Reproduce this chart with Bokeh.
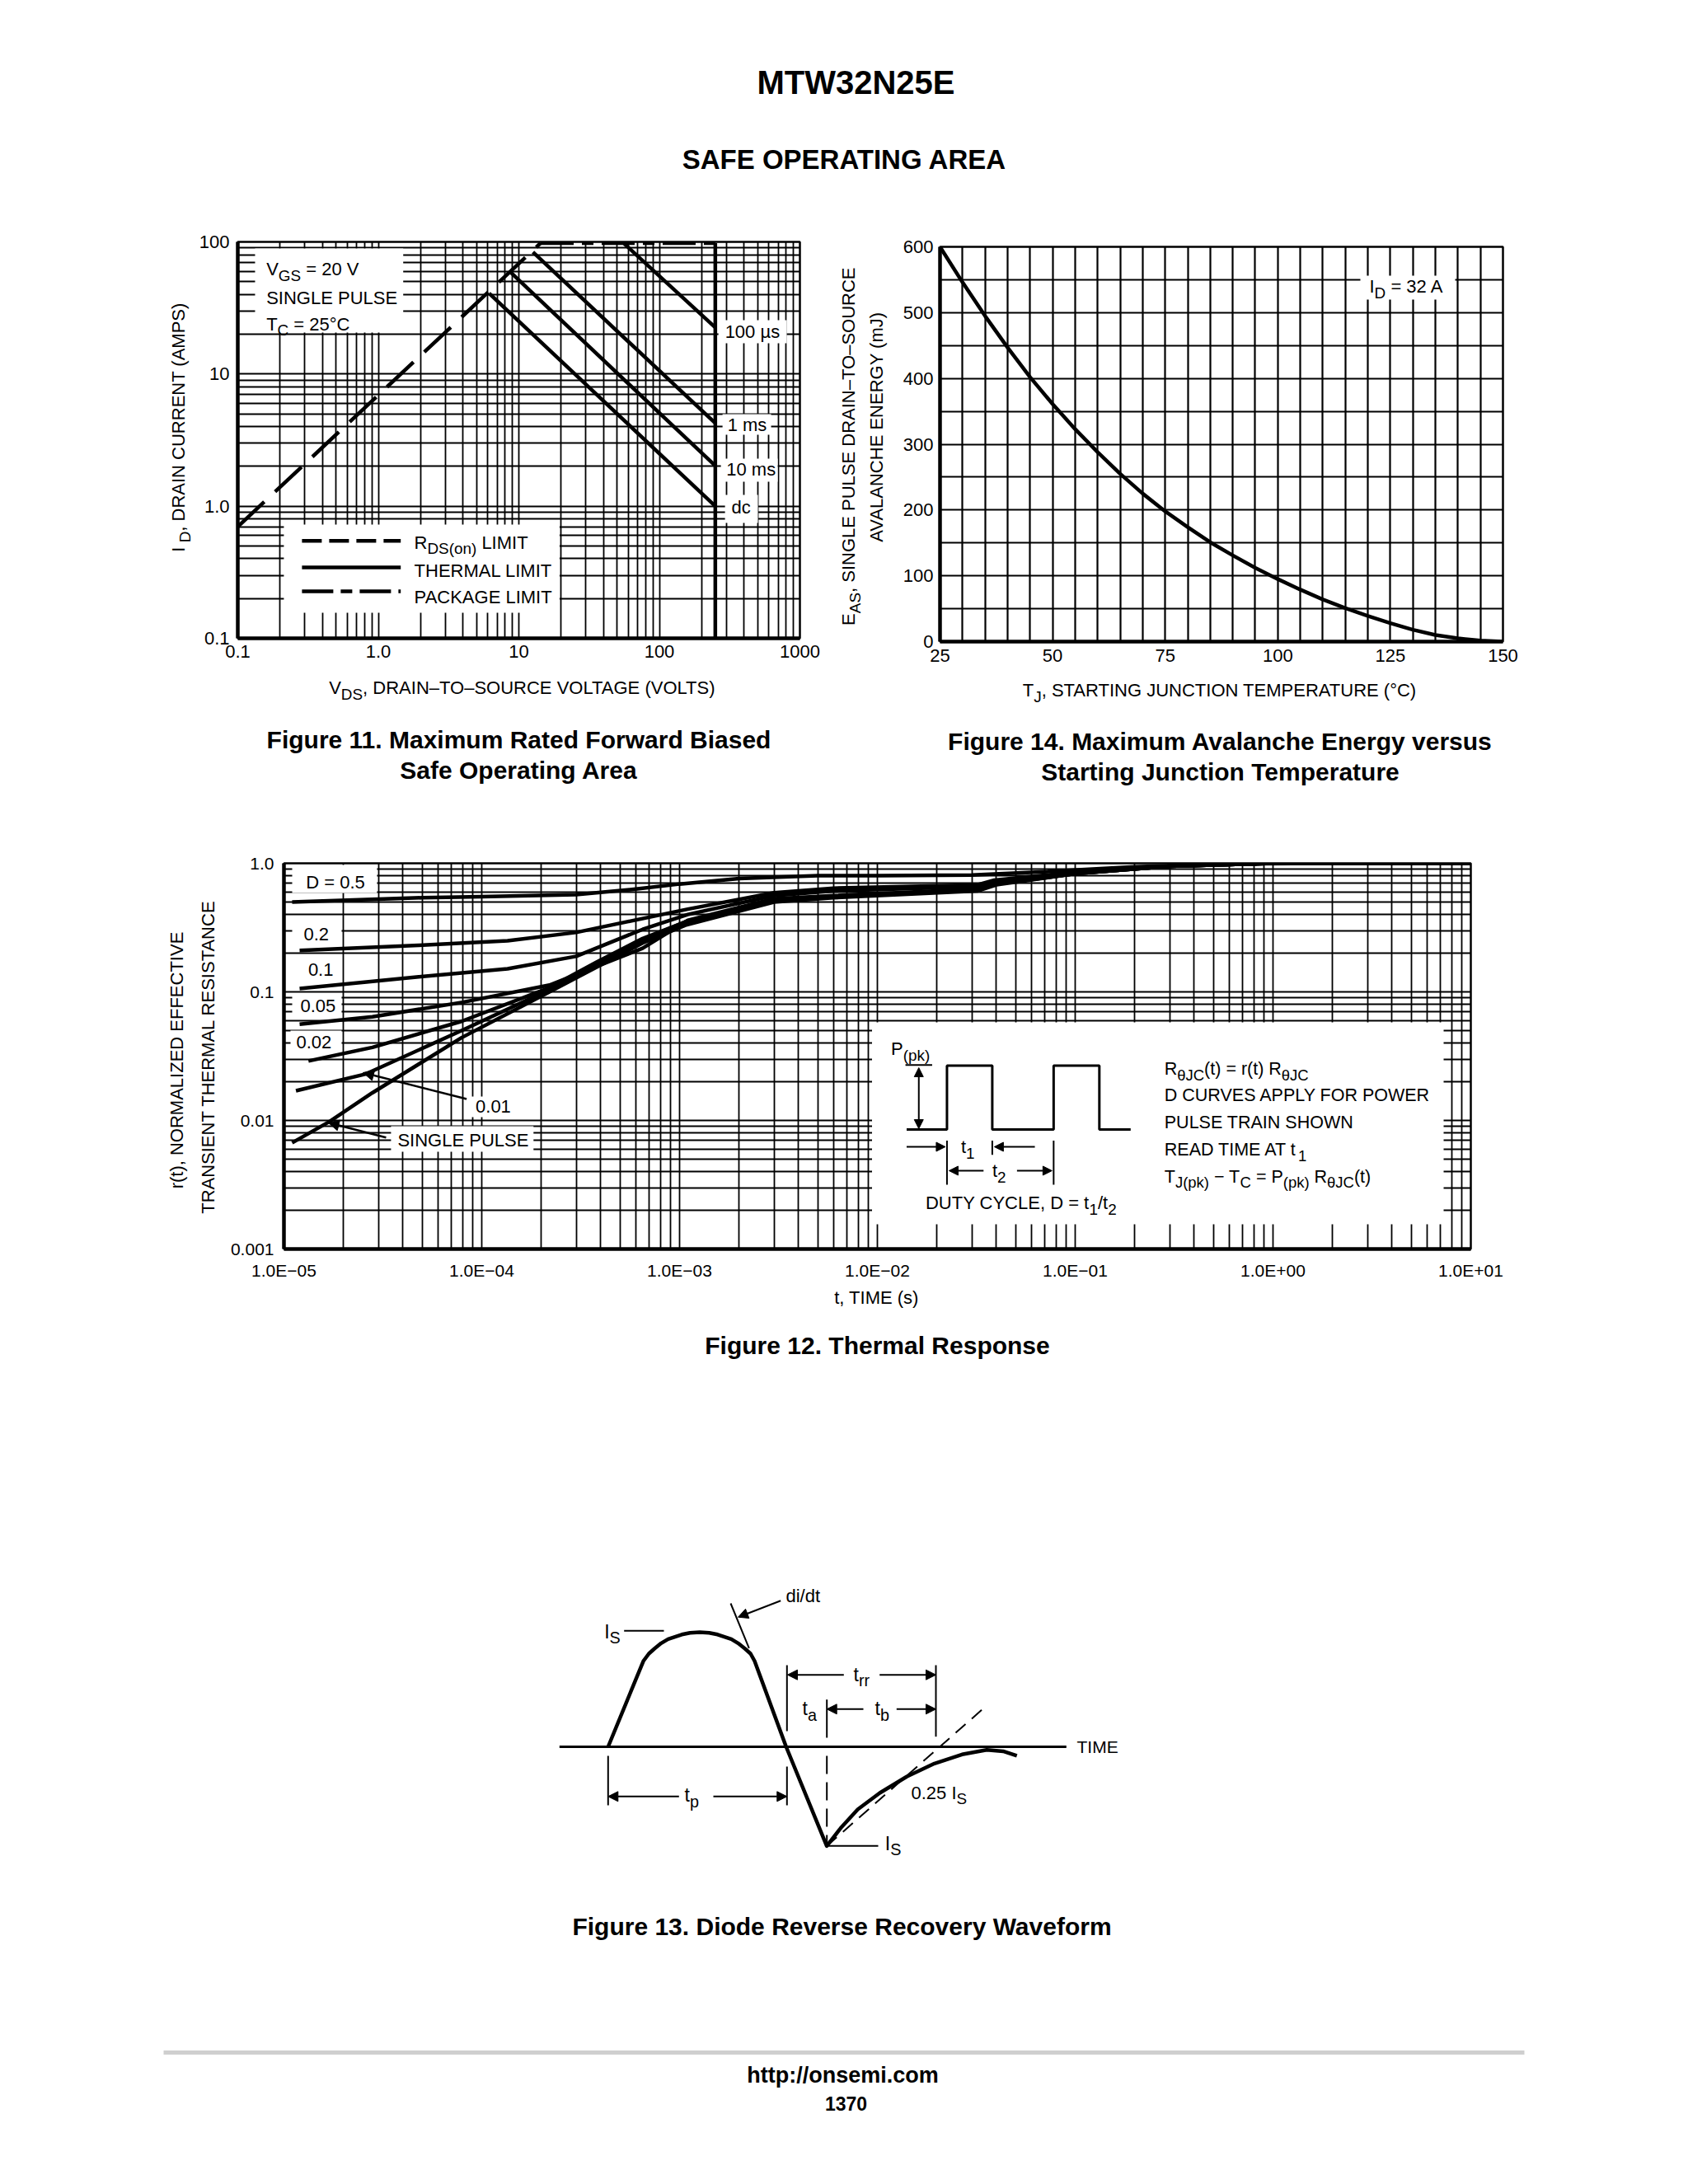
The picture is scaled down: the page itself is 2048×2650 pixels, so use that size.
import math
from bokeh.plotting import figure
from bokeh.models import (Label, FixedTicker, Range1d, Arrow, NormalHead,
                          CustomJSTickFormatter)
from bokeh.layouts import column, row
from bokeh.embed import file_html
from bokeh.resources import INLINE

# ======================= DATA =======================
# Figure 11 - Maximum rated forward biased safe operating area
soa_x_ticks = [0.1, 1.0, 10.0, 100.0, 1000.0]
soa_x_labels = ["0.1", "1.0", "10", "100", "1000"]
soa_y_ticks = [0.1, 1.0, 10.0, 100.0]
soa_y_labels = ["0.1", "1.0", "10", "100"]
rds_vds = [0.1, 14.3]            # RDS(on) limit
rds_id = [0.70, 98.0]
pkg_vds = [14.3, 250.0]          # package limit
pkg_id = [98.0, 98.0]
bvdss_vds = [250.0, 250.0]       # voltage limit
bvdss_id = [0.1, 98.0]
thermal_labels = ["100 µs", "1 ms", "10 ms", "dc"]
thermal_vds_start = [55.6, 12.6, 8.8, 6.14]
thermal_id_start = [98.0, 83.6, 58.4, 40.8]
thermal_vds_end = [250.0, 250.0, 250.0, 250.0]
thermal_id_end = [22.5, 4.25, 2.02, 1.0]

# Figure 14 - Maximum avalanche energy vs starting junction temperature
eas_x_ticks = [25, 50, 75, 100, 125, 150]
eas_y_ticks = [0, 100, 200, 300, 400, 500, 600]
eas_tj = [25, 30, 35, 40, 45, 50, 55, 60, 65, 70, 75, 80, 85, 90, 95, 100,
          105, 110, 115, 120, 125, 130, 135, 140, 145, 150]
eas_mj = [600, 546, 495, 447, 402, 361, 323, 288, 255, 225, 198, 174, 151,
          131, 112, 95, 79, 64, 51, 39, 28, 18, 10, 5, 1.5, 0]

# Figure 12 - Thermal response
zth_x_ticks = [1e-5, 1e-4, 1e-3, 1e-2, 1e-1, 1.0, 10.0]
zth_x_labels = ["1.0E\u221205", "1.0E\u221204", "1.0E\u221203", "1.0E\u221202",
                "1.0E\u221201", "1.0E+00", "1.0E+01"]
zth_y_ticks = [0.001, 0.01, 0.1, 1.0]
zth_y_labels = ["0.001", "0.01", "0.1", "1.0"]
zth_names = ["D = 0.5", "0.2", "0.1", "0.05", "0.02", "0.01", "SINGLE PULSE"]
t_d50 = [1.1e-5, 5e-5, 1e-4, 3e-4, 6e-4, 1e-3, 2e-3, 5e-3, 1e-2, 3e-2, 7e-2, 0.2, 0.6, 2.0, 10.0]
r_d50 = [0.50, 0.54, 0.55, 0.57, 0.63, 0.69, 0.76, 0.80, 0.80, 0.81, 0.86, 0.94, 0.99, 1.0, 1.0]
t_d20 = [1.2e-5, 4.8e-5, 1.35e-4, 3e-4, 1.1e-3, 3e-3, 6e-3, 3.2e-2, 3.9e-2, 0.1, 0.3, 1.0, 10.0]
r_d20 = [0.21, 0.23, 0.25, 0.29, 0.44, 0.59, 0.64, 0.68, 0.74, 0.85, 0.95, 1.0, 1.0]
t_d10 = [1.2e-5, 4.8e-5, 1.35e-4, 3e-4, 6.5e-4, 1.1e-3, 3e-3, 6e-3, 3.2e-2, 4e-2, 0.1, 0.3, 1.0, 10.0]
r_d10 = [0.106, 0.131, 0.151, 0.189, 0.306, 0.40, 0.56, 0.61, 0.66, 0.72, 0.84, 0.95, 1.0, 1.0]
t_d05 = [1.2e-5, 2.8e-5, 8e-5, 2.2e-4, 6.5e-4, 1.1e-3, 3e-3, 6e-3, 3.2e-2, 4e-2, 0.1, 0.3, 1.0, 10.0]
r_d05 = [0.056, 0.064, 0.083, 0.113, 0.218, 0.36, 0.53, 0.56, 0.63, 0.70, 0.83, 0.95, 1.0, 1.0]
t_d02 = [1.33e-5, 2.8e-5, 7.9e-5, 2.2e-4, 3.8e-4, 6.5e-4, 1.07e-3, 3e-3, 6e-3, 3.2e-2, 4e-2, 0.1, 0.3, 1.0, 10.0]
r_d02 = [0.029, 0.037, 0.059, 0.108, 0.17, 0.26, 0.35, 0.52, 0.55, 0.62, 0.69, 0.83, 0.95, 1.0, 1.0]
t_d01 = [1.15e-5, 2.6e-5, 7.9e-5, 2.2e-4, 6.5e-4, 1.07e-3, 3e-3, 6e-3, 3.2e-2, 4e-2, 0.1, 0.3, 1.0, 10.0]
r_d01 = [0.017, 0.023, 0.050, 0.104, 0.255, 0.35, 0.52, 0.55, 0.62, 0.69, 0.83, 0.95, 1.0, 1.0]
t_sp = [1.1e-5, 1.7e-5, 2.8e-5, 7.9e-5, 2.2e-4, 6.5e-4, 1.07e-3, 3e-3, 6e-3, 3.2e-2, 4e-2, 0.1, 0.3, 1.0, 10.0]
r_sp = [0.0067, 0.0098, 0.0164, 0.044, 0.100, 0.24, 0.33, 0.50, 0.54, 0.61, 0.68, 0.83, 0.95, 1.0, 1.0]

# Figure 13 - Diode reverse recovery waveform (time in tp units, current in Is units)
wave_t = [0.0, 0.198, 0.229, 0.260, 0.298, 0.337, 0.414, 0.460, 0.515, 0.568, 0.615,
          0.692, 0.730, 0.769, 0.800, 0.823, 1.0, 1.228, 1.310, 1.402, 1.526, 1.679,
          1.833, 1.988, 2.127, 2.219, 2.296]
wave_i = [0.0, 0.748, 0.813, 0.856, 0.904, 0.940, 0.980, 0.995, 1.0, 0.995, 0.980,
          0.940, 0.904, 0.856, 0.813, 0.748, 0.0, -0.866, -0.703, -0.547, -0.403, -0.259,
          -0.146, -0.067, -0.027, -0.039, -0.079]

# ======================= TEXT HELPERS =======================
FONT = "Liberation Sans"
SHIFT = 0.39   # compensation of the renderer's baseline placement (em)
_W = {c: 556 for c in "0123456789"}
_W.update(dict(zip("ABCDEFGHIJKLMNOPQRSTUVWXYZ",
                   [667, 667, 722, 722, 667, 611, 778, 722, 278, 500, 667, 556, 833,
                    722, 778, 667, 778, 722, 667, 611, 722, 667, 944, 667, 667, 611])))
_W.update(dict(zip("abcdefghijklmnopqrstuvwxyz",
                   [556, 556, 500, 556, 556, 278, 556, 556, 222, 222, 500, 222, 833,
                    556, 556, 556, 556, 333, 500, 278, 556, 500, 722, 500, 500, 500])))
_W.update({" ": 278, "(": 333, ")": 333, ",": 278, ".": 278, "/": 278, ":": 278,
           "=": 584, "+": 584, "-": 333, "\u2212": 584, "\u2013": 556, "°": 400,
           "µ": 556, "θ": 556})


def text_w(s, size):
    return sum(_W.get(c, 556) for c in s) / 1000.0 * size


class Map:
    """page pixel -> data conversion for a frame."""
    def __init__(self, L, R, T, B, xr, yr, xlog=False, ylog=False):
        self.L, self.R, self.T, self.B = L, R, T, B
        self.xr, self.yr, self.xlog, self.ylog = xr, yr, xlog, ylog

    @staticmethod
    def _interp(f, a, b, log):
        if log:
            la, lb = math.log10(a), math.log10(b)
            return 10 ** (la + f * (lb - la))
        return a + f * (b - a)

    def x(self, px):
        return self._interp((px - self.L) / (self.R - self.L), self.xr[0], self.xr[1], self.xlog)

    def y(self, py):
        return self._interp((self.B - py) / (self.B - self.T), self.yr[0], self.yr[1], self.ylog)


def label(p, m, px, py, text, size, style="normal", align="left", angle=0.0):
    if angle == 0:
        py -= SHIFT * size
    else:
        px -= SHIFT * size
    p.add_layout(Label(x=m.x(px), y=m.y(py), text=text, text_font=FONT,
                       text_font_size=f"{size:.1f}px", text_font_style=style,
                       text_color="black", text_align=align, text_baseline="alphabetic",
                       angle=angle))


def rich(p, m, px, py, parts, size=22, align="left", angle=0.0, sub_scale=0.86, sub_drop=0.28):
    widths = []
    for txt, kind in parts:
        sz = size * (sub_scale if kind == "s" else 1.0)
        widths.append(text_w(txt, sz))
    total = sum(widths)
    pos = {"left": 0.0, "center": -total / 2.0, "right": -total}[align]
    for (txt, kind), w in zip(parts, widths):
        sz = size * (sub_scale if kind == "s" else 1.0)
        drop = size * sub_drop if kind == "s" else 0.0
        lead = len(txt) - len(txt.lstrip(" "))
        off = text_w(" " * lead, sz)
        if angle == 0:
            x, y = px + pos + off, py + drop
        else:
            x, y = px + drop, py - pos - off
        label(p, m, x, y, txt.strip(" "), sz, angle=angle)
        pos += w


def wbox(p, m, l, r, t, b):
    p.quad(left=[m.x(l)], right=[m.x(r)], top=[m.y(t)], bottom=[m.y(b)],
           fill_color="white", line_color=None)


def seg(p, m, pts, lw=2.0, dash="solid"):
    p.line([m.x(a) for a, _ in pts], [m.y(b) for _, b in pts], line_width=lw,
           line_color="black", line_dash=dash)


def arrow(p, m, x0, y0, x1, y1, size=12, lw=2.0, both=False):
    def head():
        return NormalHead(size=size, fill_color="black", line_color="black", line_width=1)
    p.add_layout(Arrow(x_start=m.x(x0), y_start=m.y(y0), x_end=m.x(x1), y_end=m.y(y1),
                       start=head() if both else None, end=head(),
                       line_width=lw, line_color="black"))


FMT = """
for (let i = 0; i < vals.length; i++) {
  if (Math.abs(tick - vals[i]) <= 1e-9 * Math.max(Math.abs(vals[i]), 1e-12)) { return labs[i]; }
}
return "";
"""


def log_minors(e0, e1):
    return [k * 10.0 ** e for e in range(e0, e1) for k in range(2, 10)]


def make_plot(page_x, page_y, w, h, m, xtype, ytype):
    p = figure(width=w, height=h, x_axis_type=xtype, y_axis_type=ytype, title=None,
               x_range=Range1d(*m.xr), y_range=Range1d(*m.yr),
               output_backend="svg", toolbar_location=None, frame_align=False,
               min_border_left=m.L - page_x, min_border_right=page_x + w - m.R,
               min_border_top=m.T - page_y, min_border_bottom=page_y + h - m.B)
    p.outline_line_color = "black"
    p.outline_line_width = 2.5
    p.outline_line_alpha = 1.0
    p.background_fill_color = "white"
    p.border_fill_color = "white"
    return p


def make_canvas_m(w, h, m):
    p = figure(width=w, height=h, x_range=Range1d(*m.xr), y_range=Range1d(*m.yr),
               x_axis_type=None, y_axis_type=None, title=None,
               output_backend="svg", toolbar_location=None, frame_align=False,
               min_border=0, min_border_left=0, min_border_right=0,
               min_border_top=0, min_border_bottom=0)
    p.outline_line_color = None
    p.background_fill_color = "white"
    p.border_fill_color = "white"
    return p


def canvas(x0, y0, w, h):
    m = Map(x0, x0 + w, y0, y0 + h, (float(x0), float(x0 + w)), (float(y0 + h), float(y0)))
    return make_canvas_m(w, h, m), m


def style_axes(p, xt, xl, xminor, yt, yl, yminor, size, xstand, ystand, lw, gw):
    for ax, ticks, labs, minors, stand, grid in (
            (p.xaxis[0], xt, xl, xminor, xstand, p.xgrid[0]),
            (p.yaxis[0], yt, yl, yminor, ystand, p.ygrid[0])):
        tk = FixedTicker(ticks=ticks, minor_ticks=minors)
        ax.ticker = tk
        grid.ticker = tk
        ax.formatter = CustomJSTickFormatter(args=dict(vals=ticks, labs=labs), code=FMT)
        ax.major_label_text_font = FONT
        ax.major_label_text_font_size = f"{size}px"
        ax.major_label_text_color = "black"
        ax.major_label_standoff = stand
        ax.major_tick_line_color = None
        ax.minor_tick_line_color = None
        ax.major_tick_in = 0
        ax.major_tick_out = 0
        ax.minor_tick_in = 0
        ax.minor_tick_out = 0
        ax.axis_line_width = lw
        ax.axis_line_color = "black"
        grid.grid_line_color = "black"
        grid.grid_line_width = gw
        grid.grid_line_alpha = 1.0
        grid.minor_grid_line_color = "black"
        grid.minor_grid_line_width = gw
        grid.minor_grid_line_alpha = 1.0


PI2 = math.pi / 2
PAGE_W = 2048

# ======================= HEADER (y 0..268) =======================
ph, mh = canvas(0, 0, PAGE_W, 268)
label(ph, mh, 1038, 115, "MTW32N25E", 40, style="bold", align="center")
label(ph, mh, 1024, 206, "SAFE OPERATING AREA", 33, style="bold", align="center")

# ======================= ROW A (y 268..816) =======================
ca1, mca1 = canvas(0, 268, 238, 548)
rich(ca1, mca1, 225, 518, [("I", "n"), (" D", "s"), (", DRAIN CURRENT (AMPS)", "n")], 22,
     align="center", angle=PI2)

# Figure 11
m11 = Map(287, 970, 293, 774, (0.1, 1000.0), (0.1, 100.0), True, True)
p11 = make_plot(238, 268, 772, 548, m11, "log", "log")
style_axes(p11, soa_x_ticks, soa_x_labels, log_minors(-1, 3),
           soa_y_ticks, soa_y_labels, log_minors(-1, 2), 22, 8, 10, 4.5, 1.8)
for l, r, t, b in [(308, 488, 301, 403), (343, 678, 636, 743), (871, 954, 388, 416),
                   (876, 935, 502, 527), (874, 943, 556, 584), (879, 919, 600, 634)]:
    wbox(p11, m11, l, r, t, b)
p11.line(rds_vds, rds_id, line_width=4.5, line_color="black", line_dash="44 18")
p11.line(pkg_vds, pkg_id, line_width=4.5, line_color="black", line_dash="40 10 14 10")
p11.line(bvdss_vds, bvdss_id, line_width=4.5, line_color="black")
p11.multi_line([[a, b] for a, b in zip(thermal_vds_start, thermal_vds_end)],
               [[a, b] for a, b in zip(thermal_id_start, thermal_id_end)],
               line_width=4.5, line_color="black")
rich(p11, m11, 321.7, 335.0, [("V", "n"), ("GS", "s"), (" = 20 V", "n")], 22)
rich(p11, m11, 321.7, 369.3, [("SINGLE PULSE", "n")], 22)
rich(p11, m11, 321.7, 401.7, [("T", "n"), ("C", "s"), (" = 25°C", "n")], 22)
for name, (px, py) in zip(thermal_labels, [(879, 411), (882, 524), (880.6, 578), (887, 624)]):
    rich(p11, m11, px, py, [(name, "n")], 22)
for py, dash in [(655.7, "24 9"), (687.9, "solid"), (717.0, "38 9 14 9")]:
    p11.line([m11.x(365), m11.x(485)], [m11.y(py), m11.y(py)], line_width=4.5,
             line_color="black", line_dash=dash)
rich(p11, m11, 501.4, 666.4, [("R", "n"), ("DS(on)", "s"), (" LIMIT", "n")], 22)
rich(p11, m11, 501.4, 700.4, [("THERMAL LIMIT", "n")], 22)
rich(p11, m11, 501.4, 732.5, [("PACKAGE LIMIT", "n")], 22)

ca2, mca2 = canvas(1010, 268, 82, 548)
rich(ca2, mca2, 1038, 541, [("E", "n"), ("AS", "s"), (", SINGLE PULSE DRAIN\u2013TO\u2013SOURCE", "n")],
     22, align="center", angle=PI2)
rich(ca2, mca2, 1072, 516, [("AVALANCHE ENERGY (mJ)", "n")], 22, align="center", angle=PI2)

# Figure 14
m14 = Map(1140, 1823, 299, 778, (25.0, 150.0), (0.0, 600.0))
p14 = make_plot(1092, 268, 956, 548, m14, "linear", "linear")
style_axes(p14, eas_x_ticks, [str(v) for v in eas_x_ticks],
           [v for v in range(30, 150, 5) if v % 25 != 0],
           eas_y_ticks, [str(v) for v in eas_y_ticks],
           [v for v in range(50, 600, 100)], 22, 9, 8, 4.5, 2.2)
wbox(p14, m14, 1650, 1765, 334, 363)
p14.line(eas_tj, eas_mj, line_width=4.5, line_color="black", line_join="round")
rich(p14, m14, 1661, 356, [("I", "n"), ("D", "s"), (" = 32 A", "n")], 22)

# ======================= ROW B (y 816..960): axis titles + captions =======================
cb, mcb = canvas(0, 816, PAGE_W, 144)
rich(cb, mcb, 635.5, 843, [("V", "n"), ("DS", "s"), (", DRAIN\u2013TO\u2013SOURCE VOLTAGE (VOLTS)", "n")],
     22, align="center")
rich(cb, mcb, 1481, 846, [("T", "n"), ("J", "s"), (", STARTING JUNCTION TEMPERATURE (°C)", "n")],
     22, align="center")
label(cb, mcb, 629, 909, "Figure 11. Maximum Rated Forward Biased", 30, style="bold", align="center")
label(cb, mcb, 629, 946, "Safe Operating Area", 30, style="bold", align="center")
label(cb, mcb, 1480, 911, "Figure 14. Maximum Avalanche Energy versus", 30, style="bold", align="center")
label(cb, mcb, 1480, 948, "Starting Junction Temperature", 30, style="bold", align="center")

# ======================= ROW C (y 960..1560) =======================
cc, mcc = canvas(0, 960, 276, 600)
rich(cc, mcc, 223, 1286, [("r(t), NORMALIZED EFFECTIVE", "n")], 22, align="center", angle=PI2)
rich(cc, mcc, 261, 1281, [("TRANSIENT THERMAL RESISTANCE", "n")], 22, align="center", angle=PI2)

m12 = Map(343, 1784, 1047, 1515, (1e-5, 10.0), (1e-3, 1.0), True, True)
p12 = make_plot(276, 960, 1772, 600, m12, "log", "log")
style_axes(p12, zth_x_ticks, zth_x_labels, log_minors(-5, 1),
           zth_y_ticks, zth_y_labels, log_minors(-3, 0), 21, 14, 12, 4.5, 1.8)
name_boxes = [(353, 456, 1049, 1083), (353, 413, 1118, 1146), (359, 413, 1163, 1190),
              (353, 413, 1206, 1232), (351, 413, 1250, 1276), (568, 620, 1330, 1355),
              (473, 646, 1366, 1397)]
name_pos = [(369.7, 1079), (367, 1141.7), (372.4, 1185), (363, 1228.6), (358, 1272.6),
            (575.7, 1351), (481, 1392)]
for bx in name_boxes:
    wbox(p12, m12, *bx)
wbox(p12, m12, 1057, 1751, 1240, 1485)
for t, r in [(t_d50, r_d50), (t_d20, r_d20), (t_d10, r_d10), (t_d05, r_d05),
             (t_d02, r_d02), (t_d01, r_d01), (t_sp, r_sp)]:
    p12.line(t, r, line_width=4.5, line_color="black", line_join="round")
for name, (px, py) in zip(zth_names, name_pos):
    rich(p12, m12, px, py, [(name, "n")], 22)
arrow(p12, m12, 564.8, 1333, 439, 1301, size=13, lw=2.5)
arrow(p12, m12, 467, 1379.7, 396.8, 1361.7, size=13, lw=2.5)
# inset: pulse train
rich(p12, m12, 1080, 1281, [("P", "n"), ("(pk)", "s")], 22)
seg(p12, m12, [(1097.6, 1291.7), (1130, 1291.7)], lw=2)
arrow(p12, m12, 1113.8, 1369, 1113.8, 1295, size=11, lw=2, both=True)
pulse_px = [1099, 1148, 1148, 1203, 1203, 1277.5, 1277.5, 1333, 1333, 1371]
pulse_py = [1370, 1370, 1292.5, 1292.5, 1370, 1370, 1292.5, 1292.5, 1370, 1370]
seg(p12, m12, list(zip(pulse_px, pulse_py)), lw=3)
arrow(p12, m12, 1099, 1391, 1146, 1391, size=11, lw=2)
arrow(p12, m12, 1254.7, 1391, 1205.5, 1391, size=11, lw=2)
rich(p12, m12, 1165, 1400, [("t", "n"), ("1", "s")], 22)
seg(p12, m12, [(1148, 1383.6), (1148, 1437)], lw=2)
seg(p12, m12, [(1203, 1383.6), (1203, 1400.8)], lw=2)
seg(p12, m12, [(1277.5, 1383.6), (1277.5, 1437)], lw=2)
arrow(p12, m12, 1192.4, 1420, 1150.5, 1420, size=11, lw=2)
arrow(p12, m12, 1233, 1420, 1275.5, 1420, size=11, lw=2)
rich(p12, m12, 1203, 1429, [("t", "n"), ("2", "s")], 22)
rich(p12, m12, 1122, 1467.8, [("DUTY CYCLE, D = t", "n"), ("1", "s"), ("/t", "n"), ("2", "s")], 22)
rich(p12, m12, 1412, 1305, [("R", "n"), ("θJC", "s"), ("(t) = r(t) R", "n"), ("θJC", "s")], 21.5)
rich(p12, m12, 1412, 1337, [("D CURVES APPLY FOR POWER", "n")], 21.5)
rich(p12, m12, 1412, 1369.4, [("PULSE TRAIN SHOWN", "n")], 21.5)
rich(p12, m12, 1412, 1402.7, [("READ TIME AT t", "n"), ("1", "s")], 21.5)
rich(p12, m12, 1412, 1435.5, [("T", "n"), ("J(pk)", "s"), (" \u2212 T", "n"), ("C", "s"), (" = P", "n"),
                               ("(pk)", "s"), (" R", "n"), ("θJC", "s"), ("(t)", "n")], 21.5)

# ======================= ROW D (y 1560..2620): Fig 12 title, Fig 13, footer =======================
T0_PX, TP_PX, AX_PX, IS_PX = 737.3, 216.0, 2119.0, 139.0
D_TOP, D_H = 1560, 1060
mb = Map(0, PAGE_W, D_TOP, D_TOP + D_H,
         ((0 - T0_PX) / TP_PX, (PAGE_W - T0_PX) / TP_PX),
         ((AX_PX - (D_TOP + D_H)) / IS_PX, (AX_PX - D_TOP) / IS_PX))
pb = make_canvas_m(PAGE_W, D_H, mb)
rich(pb, mb, 1063, 1583, [("t, TIME (s)", "n")], 22, align="center")
label(pb, mb, 1064, 1644, "Figure 12. Thermal Response", 30, style="bold", align="center")
seg(pb, mb, [(678.3, 2119), (1293.3, 2119)], lw=3)
pb.line(wave_t, wave_i, line_width=4.5, line_color="black", line_join="round")
rich(pb, mb, 732.7, 1988, [("I", "n"), ("S", "s")], 23)
seg(pb, mb, [(756.7, 1978.3), (805, 1978.3)], lw=2)
seg(pb, mb, [(886, 1945), (908.3, 1999.3)], lw=2)
arrow(pb, mb, 946.7, 1941.7, 895, 1961.7, size=12, lw=2)
rich(pb, mb, 953, 1945, [("di/dt", "n")], 22)
seg(pb, mb, [(737.3, 2130), (737.3, 2190)], lw=2)
seg(pb, mb, [(954.3, 2020), (954.3, 2100)], lw=2)
seg(pb, mb, [(954.3, 2143), (954.3, 2190)], lw=2)
seg(pb, mb, [(1135, 2020), (1135, 2106.7)], lw=2)
seg(pb, mb, [(1002.7, 2061.7), (1002.7, 2108)], lw=2)
seg(pb, mb, [(1002.7, 2130), (1002.7, 2239)], lw=2, dash="22 10")
arrow(pb, mb, 823.3, 2179.3, 737.3, 2179.3, size=12, lw=2)
arrow(pb, mb, 865, 2179.3, 954.3, 2179.3, size=12, lw=2)
rich(pb, mb, 830, 2186.7, [("t", "n"), ("p", "s")], 23)
arrow(pb, mb, 1023.3, 2031.7, 955, 2031.7, size=12, lw=2)
arrow(pb, mb, 1066.7, 2031.7, 1135, 2031.7, size=12, lw=2)
rich(pb, mb, 1035, 2040, [("t", "n"), ("rr", "s")], 23)
rich(pb, mb, 973, 2081.7, [("t", "n"), ("a", "s")], 23)
arrow(pb, mb, 1047, 2073.3, 1002.7, 2073.3, size=12, lw=2)
arrow(pb, mb, 1087.3, 2073.3, 1135, 2073.3, size=12, lw=2)
rich(pb, mb, 1061, 2081.7, [("t", "n"), ("b", "s")], 23)
seg(pb, mb, [(1002.7, 2239.3), (1191.7, 2073.3)], lw=2, dash="16 10")
seg(pb, mb, [(1002.7, 2239.3), (1065, 2239.3)], lw=2)
rich(pb, mb, 1073.3, 2245, [("I", "n"), ("S", "s")], 23)
rich(pb, mb, 1105, 2183.3, [("0.25 I", "n"), ("S", "s")], 22)
rich(pb, mb, 1306, 2126.7, [("TIME", "n")], 21)
label(pb, mb, 1021, 2349, "Figure 13. Diode Reverse Recovery Waveform", 30, style="bold", align="center")
pb.line([mb.x(198), mb.x(1849)], [mb.y(2490), mb.y(2490)], line_width=5, line_color="#cfcfcf")
label(pb, mb, 1022, 2528, "http://onsemi.com", 27, style="bold", align="center")
label(pb, mb, 1026, 2561, "1370", 23, style="bold", align="center")

page = column(ph, row(ca1, p11, ca2, p14), cb, row(cc, p12), pb)
open("out.html", "w").write(file_html(page, INLINE))
